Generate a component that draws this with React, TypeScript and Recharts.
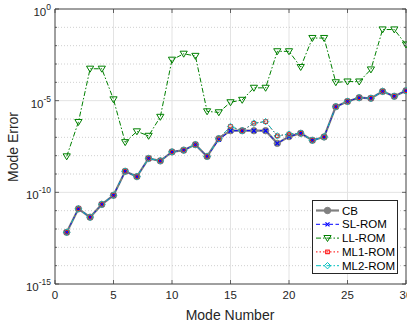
import React from "react";
import {
  LineChart, Line, XAxis, YAxis, ReferenceLine, Label,
} from "recharts";

const W = 407;
const H = 324;
const M = { top: 9, right: 1, left: 0, bottom: 0 };
const Y_AXIS_W = 55;
const X_AXIS_H = 40;
const PLOT_RIGHT = W - M.right;
const PLOT_TOP = M.top;

const FONT = "'Liberation Sans', Arial, Helvetica, sans-serif";
const AXIS = "#404040";

// ── data ────────────────────────────────────────────────────────────────────
const modes = [
  1, 2, 3, 4, 5, 6, 7, 8, 9, 10, 11, 12, 13, 14, 15,
  16, 17, 18, 19, 20, 21, 22, 23, 24, 25, 26, 27, 28, 29, 30,
];

const cb = [
  6.6e-13, 1.26e-11, 4.4e-12, 2.2e-11, 6.9e-11, 1.4e-9, 7.2e-10, 7.1e-9, 5.2e-9, 1.6e-8,
  2.0e-8, 4.0e-8, 9.1e-9, 8.5e-8, 2.3e-7, 2.3e-7, 2.3e-7, 2.3e-7, 4.7e-8, 1.1e-7,
  1.66e-7, 6.9e-8, 1.05e-7, 4.7e-6, 9.1e-6, 1.45e-5, 1.35e-5, 3.2e-5, 1.74e-5, 3.5e-5,
];

const slRom = [
  6.6e-13, 1.26e-11, 4.4e-12, 2.2e-11, 6.9e-11, 1.4e-9, 7.2e-10, 7.1e-9, 5.2e-9, 1.6e-8,
  2.0e-8, 4.0e-8, 9.1e-9, 7.5e-8, 2.3e-7, 2.3e-7, 2.3e-7, 2.3e-7, 4.7e-8, 1.1e-7,
  1.66e-7, 6.9e-8, 1.05e-7, 4.7e-6, 9.1e-6, 1.45e-5, 1.35e-5, 3.2e-5, 1.74e-5, 3.5e-5,
];

const llRom = [
  9.1e-9, 6.8e-7, 5.5e-4, 5.5e-4, 1.17e-5, 5.4e-8, 2.1e-7, 1.2e-7, 1.3e-6, 1.7e-3,
  3.6e-3, 2.75e-3, 2.6e-6, 2.3e-6, 8.1e-6, 1.1e-5, 5.0e-5, 5.0e-5, 4.9e-3, 4.9e-3,
  6.8e-4, 2.6e-2, 2.6e-2, 1.0e-4, 1.1e-4, 1.1e-4, 5.0e-4, 7.6e-2, 7.6e-2, 1.15e-2,
];

const ml1Rom = [
  6.6e-13, 1.26e-11, 4.4e-12, 2.2e-11, 6.9e-11, 1.4e-9, 7.2e-10, 7.1e-9, 5.2e-9, 1.6e-8,
  2.0e-8, 4.0e-8, 9.1e-9, 8.5e-8, 3.9e-7, 2.3e-7, 5.9e-7, 7.2e-7, 1.2e-7, 1.5e-7,
  1.66e-7, 6.9e-8, 1.05e-7, 4.7e-6, 9.1e-6, 1.45e-5, 1.35e-5, 3.2e-5, 1.74e-5, 3.5e-5,
];

const ml2Rom = [
  6.6e-13, 1.26e-11, 4.4e-12, 2.2e-11, 6.9e-11, 1.4e-9, 7.2e-10, 7.1e-9, 5.2e-9, 1.6e-8,
  2.0e-8, 4.0e-8, 9.1e-9, 8.5e-8, 3.9e-7, 2.3e-7, 5.9e-7, 7.2e-7, 1.2e-7, 1.5e-7,
  1.66e-7, 6.9e-8, 1.05e-7, 4.7e-6, 9.1e-6, 1.45e-5, 1.35e-5, 3.2e-5, 1.74e-5, 3.5e-5,
];

const xTicks = [0, 5, 10, 15, 20, 25, 30];
const xGrid = [5, 10, 15, 20, 25];
const yExponents = [-15, -14, -13, -12, -11, -10, -9, -8, -7, -6, -5, -4, -3, -2, -1, 0];
const yTicks = yExponents.map((e) => Number(`1e${e}`));
const yMajorGrid = [1e-10, 1e-5];
const yMinorGrid = [1e-14, 1e-13, 1e-12, 1e-11, 1e-9, 1e-8, 1e-7, 1e-6, 1e-4, 1e-3, 1e-2, 1e-1];

const rows = modes.map((m, i) => ({
  mode: m,
  cb: cb[i],
  sl: slRom[i],
  ll: llRom[i],
  ml1: ml1Rom[i],
  ml2: ml2Rom[i],
}));

// ── markers ─────────────────────────────────────────────────────────────────
type Mk = "circle" | "x" | "tri" | "square" | "diamond";

function markerShape(kind: Mk, cx: number, cy: number, color: string, key?: string | number) {
  switch (kind) {
    case "circle":
      return <circle key={key} cx={cx} cy={cy} r={3.2} fill={color} stroke={color} strokeWidth={1} />;
    case "x":
      return (
        <path key={key} d={`M${cx - 2},${cy - 2}L${cx + 2},${cy + 2}M${cx - 2},${cy + 2}L${cx + 2},${cy - 2}`}
          stroke={color} strokeWidth={1.2} fill="none" />
      );
    case "tri":
      return (
        <path key={key} d={`M${cx - 3.6},${cy - 2.6}L${cx + 3.6},${cy - 2.6}L${cx},${cy + 3.4}Z`}
          stroke={color} strokeWidth={1} fill="none" />
      );
    case "square":
      return <rect key={key} x={cx - 1.8} y={cy - 1.8} width={3.6} height={3.6} stroke={color} strokeWidth={1} fill="none" />;
    case "diamond":
      return (
        <path key={key} d={`M${cx},${cy - 3.2}L${cx + 3.2},${cy}L${cx},${cy + 3.2}L${cx - 3.2},${cy}Z`}
          stroke={color} strokeWidth={1} fill="none" />
      );
  }
}

const dotFor = (kind: Mk, color: string) => (p: any) =>
  markerShape(kind, p.cx, p.cy, color, `${kind}-${p.index}`);

const SERIES: { key: string; name: string; color: string; width: number; dash?: string; mk: Mk }[] = [
  { key: "cb", name: "CB", color: "#808080", width: 2.2, mk: "circle" },
  { key: "sl", name: "SL-ROM", color: "#0000ff", width: 1, dash: "4 2.5", mk: "x" },
  { key: "ll", name: "LL-ROM", color: "#008000", width: 1, dash: "5 2 1.5 2", mk: "tri" },
  { key: "ml1", name: "ML1-ROM", color: "#ff0000", width: 1, dash: "1.5 2", mk: "square" },
  { key: "ml2", name: "ML2-ROM", color: "#00bfbf", width: 1, dash: "5 2 1.5 2", mk: "diamond" },
];

// ── axes ticks (MATLAB-style, inward) ───────────────────────────────────────
function YTick(props: any) {
  const { x, y, payload } = props;
  const exp = Math.round(Math.log10(payload.value));
  const major = exp % 5 === 0;
  const len = major ? 4 : 2;
  return (
    <g>
      <line x1={x} y1={y} x2={x + len} y2={y} stroke={AXIS} strokeWidth={0.8} />
      <line x1={PLOT_RIGHT} y1={y} x2={PLOT_RIGHT - len} y2={y} stroke={AXIS} strokeWidth={0.8} />
      {major && (
        <text x={x - 4} y={y + 7} textAnchor="end" fontFamily={FONT} fill="#262626">
          <tspan fontSize={11.5}>10</tspan>
          <tspan fontSize={8.5} dy={-6}>{exp}</tspan>
        </text>
      )}
    </g>
  );
}

function XTick(props: any) {
  const { x, y, payload } = props;
  return (
    <g>
      <line x1={x} y1={y} x2={x} y2={y - 4} stroke={AXIS} strokeWidth={0.8} />
      <line x1={x} y1={PLOT_TOP} x2={x} y2={PLOT_TOP + 4} stroke={AXIS} strokeWidth={0.8} />
      <text x={x} y={y + 15} textAnchor="middle" fontFamily={FONT} fontSize={11.5} fill="#262626">
        {payload.value}
      </text>
    </g>
  );
}

// ── legend box ──────────────────────────────────────────────────────────────
function LegendBox() {
  return (
    <svg width={86} height={74} style={{ display: "block" }}>
      <rect x={0.5} y={0.5} width={85} height={73} fill="#fff" stroke="#262626" strokeWidth={1} />
      {SERIES.map((s, i) => {
        const cy = 10.5 + i * 13.8;
        return (
          <g key={s.key}>
            <line x1={4} y1={cy} x2={27} y2={cy} stroke={s.color} strokeWidth={s.width}
              strokeDasharray={s.dash} />
            {markerShape(s.mk, 15.5, cy, s.color)}
            <text x={30} y={cy + 4} fontFamily={FONT} fontSize={11.5} fill="#000">{s.name}</text>
          </g>
        );
      })}
    </svg>
  );
}

export default function App() {
  return (
    <div style={{ position: "absolute", left: 0, top: 0, width: W, height: H, background: "#fff" }}>
      <LineChart width={W} height={H} data={rows} margin={M}>
        {xGrid.map((v) => (
          <ReferenceLine key={`vx${v}`} x={v} stroke="#e3e3e3" strokeWidth={1} />
        ))}
        {yMajorGrid.map((v) => (
          <ReferenceLine key={`hy${v}`} y={v} stroke="#e3e3e3" strokeWidth={1} />
        ))}
        {yMinorGrid.map((v) => (
          <ReferenceLine key={`my${v}`} y={v} stroke="#c4c4c4" strokeWidth={0.8} strokeDasharray="1 2" />
        ))}
        <XAxis
          dataKey="mode"
          type="number"
          domain={[0, 30]}
          ticks={xTicks}
          height={X_AXIS_H}
          tickSize={0}
          tickMargin={0}
          tickLine={false}
          axisLine={{ stroke: AXIS, strokeWidth: 1 }}
          tick={<XTick />}
          interval={0}
        >
          <Label
            content={() => (
              <text x={230} y={319.5} textAnchor="middle" fontFamily={FONT} fontSize={14} fill="#262626">
                Mode Number
              </text>
            )}
          />
        </XAxis>
        <YAxis
          type="number"
          scale="log"
          domain={[1e-15, 1]}
          allowDataOverflow
          ticks={yTicks}
          width={Y_AXIS_W}
          tickSize={0}
          tickMargin={0}
          tickLine={false}
          axisLine={{ stroke: AXIS, strokeWidth: 1 }}
          tick={<YTick />}
          interval={0}
        >
          <Label
            content={() => (
              <text x={18} y={147} transform="rotate(-90 18 147)" textAnchor="middle" fontFamily={FONT}
                fontSize={14} fill="#262626">
                Mode Error
              </text>
            )}
          />
        </YAxis>
        <ReferenceLine y={1} stroke={AXIS} strokeWidth={1} />
        <ReferenceLine x={30} stroke={AXIS} strokeWidth={1} />
        {SERIES.map((s) => (
          <Line
            key={s.key}
            dataKey={s.key}
            name={s.name}
            type="linear"
            stroke={s.color}
            strokeWidth={s.width}
            strokeDasharray={s.dash}
            dot={dotFor(s.mk, s.color)}
            activeDot={false}
            isAnimationActive={false}
          />
        ))}
      </LineChart>
      <div style={{ position: "absolute", left: 312, top: 200 }}>
        <LegendBox />
      </div>
    </div>
  );
}
